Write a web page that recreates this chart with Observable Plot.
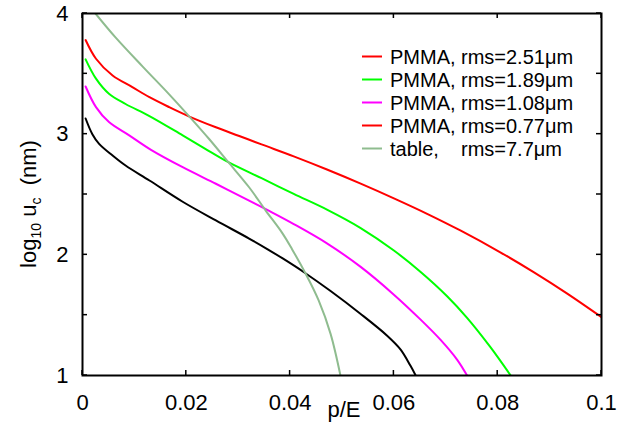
<!DOCTYPE html>
<html><head><meta charset="utf-8">
<script src="https://cdn.jsdelivr.net/npm/d3@7"></script>
<script src="https://cdn.jsdelivr.net/npm/@observablehq/plot@0.6"></script>
<style>body{margin:0;background:#fff} #chart svg{display:block}</style>
</head><body><div id="chart"></div>
<script>
// Axis ticks
const xTicks = [0, 0.02, 0.04, 0.06, 0.08, 0.1];
const xTickLabels = ["0", "0.02", "0.04", "0.06", "0.08", "0.1"];
const yTicks = [1, 1.5, 2, 2.5, 3, 3.5, 4];
const yTickLabels = ["1", "", "2", "", "3", "", "4"];

// Series (p/E, log10 uc)
const x251 = [0.0006, 0.0026, 0.0058, 0.0096, 0.0129, 0.0167, 0.0206, 0.0257, 0.0302, 0.0345, 0.0407, 0.0471, 0.0536, 0.06, 0.0664, 0.0728, 0.0805, 0.087, 0.0934, 0.1];
const y251 = [3.78, 3.625, 3.486, 3.39, 3.306, 3.224, 3.146, 3.057, 2.985, 2.915, 2.816, 2.707, 2.59, 2.468, 2.34, 2.202, 2.021, 1.855, 1.679, 1.484];

const x189 = [0.0006, 0.0026, 0.0051, 0.0083, 0.0129, 0.0193, 0.0235, 0.0281, 0.0345, 0.0407, 0.0471, 0.0536, 0.06, 0.0651, 0.0703, 0.0741, 0.0786, 0.0825];
const y189 = [3.62, 3.46, 3.335, 3.25, 3.15, 2.99, 2.883, 2.768, 2.635, 2.505, 2.375, 2.222, 2.036, 1.86, 1.655, 1.478, 1.235, 1.0];

const x108 = [0.0006, 0.0026, 0.0051, 0.009, 0.0132, 0.0193, 0.0257, 0.0321, 0.0356, 0.0407, 0.0471, 0.0536, 0.06, 0.0651, 0.069, 0.0722, 0.0741];
const y108 = [3.395, 3.224, 3.1, 2.99, 2.87, 2.726, 2.589, 2.45, 2.372, 2.255, 2.095, 1.9, 1.67, 1.465, 1.295, 1.13, 1.0];

const x077 = [0.0006, 0.0019, 0.0032, 0.0058, 0.0083, 0.0129, 0.0193, 0.0257, 0.0321, 0.0356, 0.0385, 0.0426, 0.0478, 0.0536, 0.0587, 0.0613, 0.0632, 0.0642];
const y077 = [3.13, 3.0, 2.92, 2.823, 2.74, 2.616, 2.44, 2.285, 2.135, 2.048, 1.972, 1.858, 1.7, 1.51, 1.33, 1.215, 1.08, 1.0];

const xTable = [0.0025, 0.0064, 0.0116, 0.0167, 0.0206, 0.0244, 0.0281, 0.0321, 0.0353, 0.0385, 0.0404, 0.043, 0.0455, 0.0478, 0.0497];
const yTable = [4.0, 3.8, 3.56, 3.33, 3.146, 2.96, 2.768, 2.56, 2.367, 2.18, 2.045, 1.843, 1.622, 1.345, 1.0];

const seriesNames = ["PMMA 2.51", "PMMA 1.89", "PMMA 1.08", "PMMA 0.77", "table 7.7"];
const seriesColors = ["#ff0000", "#00ff00", "#ff00ff", "#000000", "#8fbc8f"];

// Legend (as in the original figure)
const legendPrefix = ["PMMA,", "PMMA,", "PMMA,", "PMMA,", "table,"];
const legendRms = ["rms=2.51\u03bcm", "rms=1.89\u03bcm", "rms=1.08\u03bcm", "rms=0.77\u03bcm", "rms=7.7\u03bcm"];
const legendColors = ["#ff0000", "#00ff00", "#ff00ff", "#ff0000", "#8fbc8f"];

const seriesData = [[x251, y251], [x189, y189], [x108, y108], [x077, y077], [xTable, yTable]];
const rows = [];
seriesData.forEach(([xs, ys], s) => xs.forEach((x, i) => rows.push({series: seriesNames[s], x, y: ys[i]})));

const font = "'Liberation Sans', Arial, Helvetica, sans-serif";
const W = 634, H = 432, mL = 82, mR = 33, mT = 13, mB = 57, tickLen = 5;

const plot = Plot.plot({
  width: W, height: H,
  marginLeft: mL, marginRight: mR, marginTop: mT, marginBottom: mB,
  style: {fontFamily: font, background: "white", color: "black"},
  x: {domain: [0, 0.1]},
  y: {domain: [1, 4]},
  color: {domain: seriesNames, range: seriesColors},
  marks: [
    Plot.line(rows, {x: "x", y: "y", z: "series", stroke: "series", strokeWidth: 2, curve: "catmull-rom", clip: true}),
    Plot.frame({stroke: "black", strokeWidth: 2}),
    // tick labels
    Plot.axisX(xTicks, {anchor: "bottom", tickSize: 0, tickPadding: 19,
      tickFormat: d => xTickLabels[xTicks.indexOf(d)], fontSize: 22, label: null}),
    Plot.axisY(yTicks, {anchor: "left", tickSize: 0, tickPadding: 14,
      tickFormat: d => yTickLabels[yTicks.indexOf(d)], fontSize: 22, label: null})
  ]
});

document.getElementById("chart").appendChild(plot);
const svg = d3.select(plot);

// Positions from Plot's own scales (domain/range)
const xs = plot.scale("x"), ys = plot.scale("y");
const fx = d3.scaleLinear(xs.domain, xs.range);
const fy = d3.scaleLinear(ys.domain, ys.range);
const frameTop = Math.min(...ys.range), frameBottom = Math.max(...ys.range);
const frameLeft = Math.min(...xs.range), frameRight = Math.max(...xs.range);

// inward tick marks on all four sides
const tg = svg.append("g");
function tickLine(x1, y1, x2, y2) {
  tg.append("line").attr("x1", x1).attr("y1", y1).attr("x2", x2).attr("y2", y2)
    .attr("stroke", "black").attr("stroke-width", 1.5);
}
xTicks.forEach(v => {
  const px = fx(v);
  tickLine(px, frameBottom, px, frameBottom - tickLen);
  tickLine(px, frameTop, px, frameTop + tickLen);
});
yTicks.forEach(v => {
  const py = fy(v);
  tickLine(frameLeft, py, frameLeft + tickLen, py);
  tickLine(frameRight, py, frameRight - tickLen, py);
});

// y-axis title
const yl = svg.append("text")
  .attr("transform", "translate(36,204) rotate(-90)")
  .attr("text-anchor", "middle")
  .attr("font-family", font).attr("font-size", 22).attr("fill", "black")
  .style("white-space", "pre");
yl.append("tspan").text("log");
yl.append("tspan").attr("font-size", 14).attr("dy", 5).text("10");
yl.append("tspan").attr("dy", -5).text(" u");
yl.append("tspan").attr("font-size", 14).attr("dy", 5).text("c");
yl.append("tspan").attr("dy", -5).text("\u00a0 (nm)");

// x-axis title
svg.append("text")
  .attr("x", 344).attr("y", 417)
  .attr("text-anchor", "middle")
  .attr("font-family", font).attr("font-size", 22).attr("fill", "black")
  .text("p/E");

// legend
const lg = svg.append("g").attr("font-family", font).attr("font-size", 20)
  .attr("fill", "black").attr("text-anchor", "start");
legendPrefix.forEach((p, i) => {
  const cy = 56.5 + i * 23;
  lg.append("line").attr("x1", 362).attr("x2", 382).attr("y1", cy).attr("y2", cy)
    .attr("stroke", legendColors[i]).attr("stroke-width", 2);
  lg.append("text").attr("x", 390).attr("y", cy + 7.5).attr("text-anchor", "start").text(p);
  lg.append("text").attr("x", 461).attr("y", cy + 7.5).attr("text-anchor", "start").text(legendRms[i]);
});
</script>
</body></html>
